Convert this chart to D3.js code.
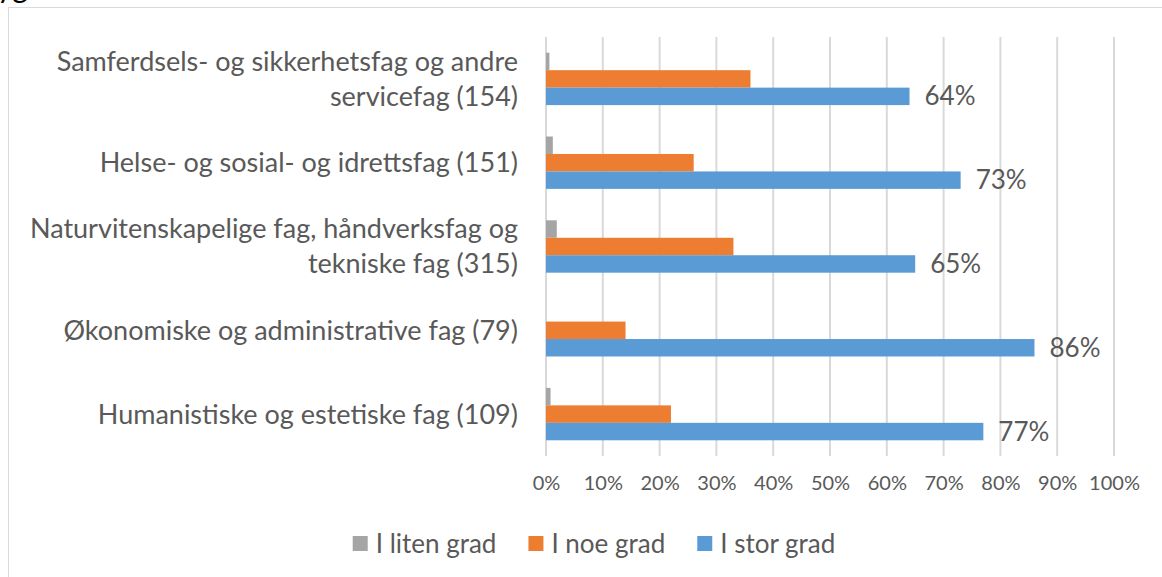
<!DOCTYPE html>
<html>
<head>
    <meta charset="utf-8">
    <title>I hvilken grad</title>
    <script src="https://d3js.org/d3.v7.min.js"></script>
    <style type="text/css">
        html,
        body {
            margin: 0;
            background: #ffffff;
        }
        svg text {
            font-family: Lato, "Open Sans", sans-serif;
            fill: #595959;
        }
    </style>
</head>
<body>
    <svg id="chart" width="1162" height="577"></svg>
    <script type="text/javascript">
        // categories (top to bottom), each split into label lines
        var categories = [
            ["Samferdsels- og sikkerhetsfag og andre", "servicefag (154)"],
            ["Helse- og sosial- og idrettsfag (151)"],
            ["Naturvitenskapelige fag, håndverksfag og", "tekniske fag (315)"],
            ["Økonomiske og administrative fag (79)"],
            ["Humanistiske og estetiske fag (109)"]
        ];
        var seriesNames = ["I liten grad", "I noe grad", "I stor grad"];
        var seriesColors = ["#A5A5A5", "#ED7D31", "#5B9BD5"];
        var litenGrad = [0.6, 1.2, 1.9, 0, 0.8];
        var noeGrad = [36, 26, 33, 14, 22];
        var storGrad = [64, 73, 65, 86, 77];
        var tickValues = [0, 10, 20, 30, 40, 50, 60, 70, 80, 90, 100];

        var series = [litenGrad, noeGrad, storGrad];

        var svg = d3.select("#chart");

        svg.append("rect")
            .attr("width", 1162).attr("height", 577)
            .attr("fill", "#ffffff");

        // cut-off text from the page above the chart
        svg.append("text")
            .attr("x", -3).attr("y", -2)
            .style("font-size", "30px")
            .style("fill", "#000000")
            .text("yg");

        // chart frame
        svg.append("rect")
            .attr("x", 8.5).attr("y", 7.5)
            .attr("width", 1170).attr("height", 600)
            .attr("fill", "none")
            .attr("stroke", "#D9D9D9")
            .attr("stroke-width", 1);

        var x = d3.scaleLinear().domain([0, 100]).range([546, 1114]);
        var y = d3.scaleBand()
            .domain(d3.range(categories.length))
            .range([37, 456])
            .paddingInner(0.375)
            .paddingOuter(0.1875);
        var ySub = d3.scaleBand()
            .domain(d3.range(series.length))
            .range([0, y.bandwidth()]);

        // gridlines
        svg.append("g")
            .selectAll("line")
            .data(tickValues)
            .enter().append("line")
            .attr("x1", function(d) { return x(d); })
            .attr("x2", function(d) { return x(d); })
            .attr("y1", 37)
            .attr("y2", 456)
            .attr("stroke", "#D9D9D9")
            .attr("stroke-width", 2);

        // x axis tick labels
        var xAxis = d3.axisBottom(x)
            .tickValues(tickValues)
            .tickFormat(function(d) { return d + "%"; })
            .tickSize(0)
            .tickPadding(0);
        var axisG = svg.append("g")
            .attr("transform", "translate(0,476)")
            .call(xAxis);
        axisG.select(".domain").remove();
        axisG.selectAll("text")
            .style("font-size", "20px")
            .attr("dy", "0.71em")
            .style("fill", "#595959");

        // bars
        series.forEach(function(vals, s) {
            svg.append("g")
                .selectAll("rect")
                .data(vals)
                .enter().append("rect")
                .attr("x", x(0))
                .attr("y", function(d, i) { return y(i) + ySub(s); })
                .attr("width", function(d) { return x(d) - x(0); })
                .attr("height", ySub.bandwidth())
                .attr("fill", seriesColors[s]);
        });

        // data labels for "I stor grad"
        svg.append("g")
            .selectAll("text")
            .data(storGrad)
            .enter().append("text")
            .attr("x", function(d) { return x(d) + 15; })
            .attr("y", function(d, i) { return y(i) + ySub(2) + ySub.bandwidth() / 2; })
            .attr("dy", "0.35em")
            .style("font-size", "26px")
            .text(function(d) { return d + "%"; });

        // category labels
        var lineH = 35;
        var catG = svg.append("g");
        categories.forEach(function(lines, i) {
            var cy = y(i) + y.bandwidth() / 2;
            var t = catG.append("text")
                .attr("text-anchor", "end")
                .style("font-size", "27px");
            lines.forEach(function(line, k) {
                t.append("tspan")
                    .attr("x", 518)
                    .attr("y", cy + (k - (lines.length - 1) / 2) * lineH)
                    .attr("dy", "0.35em")
                    .text(line);
            });
        });

        // legend
        var legend = svg.append("g");
        var items = legend.selectAll("g")
            .data(seriesNames)
            .enter().append("g");
        items.append("rect")
            .attr("width", 15).attr("height", 15)
            .attr("y", 536)
            .attr("fill", function(d, i) { return seriesColors[i]; });
        items.append("text")
            .attr("x", 23)
            .attr("y", 543.5)
            .attr("dy", "0.35em")
            .style("font-size", "26px")
            .text(function(d) { return d; });
        var pos = 0;
        var offsets = [];
        items.each(function() {
            offsets.push(pos);
            pos += 23 + this.querySelector("text").getComputedTextLength() + 32;
        });
        var total = pos - 32;
        var startX = 594 - total / 2;
        items.attr("transform", function(d, i) { return "translate(" + (startX + offsets[i]) + ",0)"; });
    </script>
</body>
</html>
